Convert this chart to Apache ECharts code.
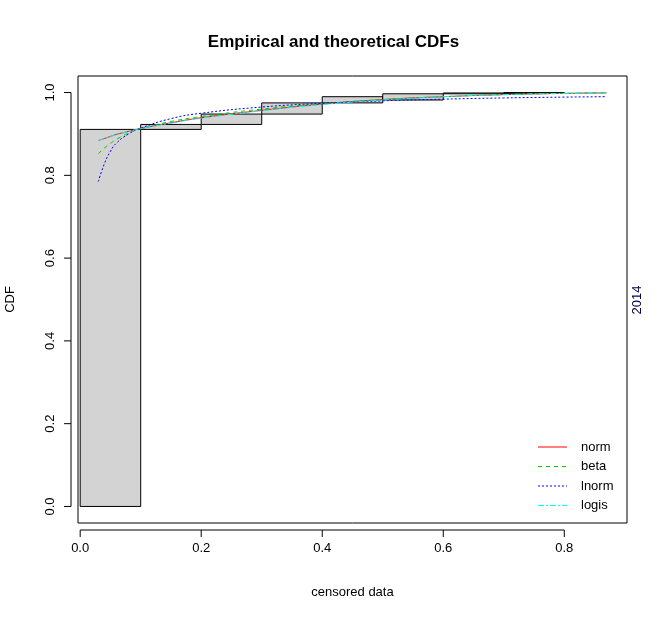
<!DOCTYPE html>
<html>
<head>
<meta charset="utf-8">
<script src="https://cdn.jsdelivr.net/npm/echarts@6/dist/echarts.min.js"></script>
</head>
<body style="margin:0">
<div id="c" style="width:667px;height:621px"></div>
<script>
// Turnbull intervals: [left, right, lowerCDF, upperCDF]
var boxes = [
  [0.0, 0.1, 0.0, 0.911],
  [0.1, 0.2, 0.911, 0.923],
  [0.2, 0.3, 0.923, 0.948],
  [0.3, 0.4, 0.948, 0.975],
  [0.4, 0.5, 0.975, 0.990],
  [0.5, 0.6, 0.982, 0.997],
  [0.6, 0.7, 0.997, 0.999],
  [0.7, 0.8, 0.998, 1.0]
];
var xs = [0.03, 0.04, 0.05, 0.06, 0.08, 0.1, 0.15, 0.2, 0.3, 0.4, 0.5, 0.6, 0.7, 0.8, 0.87];
var normY  = [0.884, 0.889, 0.894, 0.899, 0.906, 0.913, 0.927, 0.939, 0.957, 0.972, 0.983, 0.990, 0.995, 0.998, 0.999];
var betaY  = [0.852, 0.866, 0.877, 0.887, 0.902, 0.913, 0.930, 0.942, 0.960, 0.973, 0.983, 0.990, 0.995, 0.998, 1.0];
var lnormY = [0.785, 0.828, 0.858, 0.878, 0.900, 0.914, 0.937, 0.950, 0.965, 0.974, 0.980, 0.984, 0.987, 0.989, 0.990];
var logisY = [0.884, 0.889, 0.894, 0.899, 0.906, 0.913, 0.926, 0.938, 0.956, 0.971, 0.982, 0.990, 0.995, 0.998, 0.999];
var names = ['norm', 'beta', 'lnorm', 'logis'];
var colors = ['#ff0000', '#00cd00', '#0000ff', '#00ffff'];
var dashes = ['solid', [4, 4], [2, 2], [6, 2, 2, 2]];
var ys = [normY, betaY, lnormY, logisY];

function pairs(a) { return xs.map(function (x, i) { return [x, a[i]]; }); }

var font = 'Arial, "Liberation Sans", sans-serif';
var chart = echarts.init(document.getElementById('c'));
var series = [{
  type: 'custom',
  data: boxes,
  renderItem: function (p, api) {
    var a = api.coord([api.value(0), api.value(3)]);
    var b = api.coord([api.value(1), api.value(2)]);
    return {
      type: 'rect',
      shape: { x: a[0], y: a[1], width: b[0] - a[0], height: b[1] - a[1] },
      style: { fill: '#d3d3d3', stroke: '#000', lineWidth: 1 }
    };
  },
  silent: true
}];
ys.forEach(function (a, i) {
  series.push({
    type: 'line', name: names[i], data: pairs(a), smooth: true, showSymbol: false,
    lineStyle: { color: colors[i], width: 1, type: dashes[i] }, silent: true
  });
});

chart.setOption({
  animation: false,
  title: { text: 'Empirical and theoretical CDFs', left: 'center', top: 29,
    textStyle: { fontFamily: font, fontSize: 17, fontWeight: 'bold', color: '#000' } },
  grid: { left: 78, top: 76, width: 549, height: 447, show: true, borderColor: '#000', borderWidth: 1,
    containLabel: false, outerBoundsMode: 'none' },
  xAxis: {
    type: 'value', min: -0.0036, max: 0.9036, interval: 0.2,
    name: 'censored data', nameLocation: 'middle', nameGap: 63,
    nameTextStyle: { fontFamily: font, fontSize: 13, color: '#000' },
    splitLine: { show: false }, axisLine: { show: false },
    axisTick: { show: false },
    axisLabel: { show: false }
  },
  yAxis: {
    type: 'value', min: -0.04, max: 1.04,
    name: 'CDF', nameLocation: 'middle', nameGap: 61,
    nameTextStyle: { fontFamily: font, fontSize: 13, color: '#000' },
    splitLine: { show: false }, axisLine: { show: false },
    axisTick: { show: false }, axisLabel: { show: false }
  },
  series: series
});

// R-style detached axes
var g = [];
var tx = [0, 0.2, 0.4, 0.6, 0.8], ty = [0, 0.2, 0.4, 0.6, 0.8, 1.0];
var yb = 530, xl = 71;
var p0 = chart.convertToPixel({ gridIndex: 0 }, [0, 0]);
var p1 = chart.convertToPixel({ gridIndex: 0 }, [0.8, 1.0]);
g.push({ type: 'line', shape: { x1: p0[0], y1: yb, x2: p1[0], y2: yb }, style: { stroke: '#000' } });
g.push({ type: 'line', shape: { x1: xl, y1: p0[1], x2: xl, y2: p1[1] }, style: { stroke: '#000' } });
tx.forEach(function (v) {
  var x = chart.convertToPixel({ gridIndex: 0 }, [v, 0])[0];
  g.push({ type: 'line', shape: { x1: x, y1: yb, x2: x, y2: yb + 7 }, style: { stroke: '#000' } });
  g.push({ type: 'text', x: x, y: yb + 12, style: { text: v.toFixed(1), fontFamily: font, fontSize: 13, fill: '#000', align: 'center' } });
});
ty.forEach(function (v) {
  var y = chart.convertToPixel({ gridIndex: 0 }, [0, v])[1];
  g.push({ type: 'line', shape: { x1: xl, y1: y, x2: xl - 7, y2: y }, style: { stroke: '#000' } });
  g.push({ type: 'text', x: 50, y: y, rotation: Math.PI / 2,
    style: { text: v.toFixed(1), fontFamily: font, fontSize: 13, fill: '#000', align: 'center', verticalAlign: 'middle' } });
});
g.push({ type: 'text', x: 637, y: 300, rotation: Math.PI / 2,
  style: { text: '2014', fontFamily: font, fontSize: 13, fill: '#00004d', align: 'center', verticalAlign: 'middle' } });
names.forEach(function (n, i) {
  var y = 447 + i * 19.5;
  var ld = dashes[i] === 'solid' ? null : dashes[i];
  g.push({ type: 'line', shape: { x1: 538, y1: y, x2: 567, y2: y }, style: { stroke: colors[i], lineWidth: 1, lineDash: ld } });
  g.push({ type: 'text', x: 581, y: y, style: { text: n, fontFamily: font, fontSize: 13, fill: '#000', verticalAlign: 'middle' } });
});
chart.setOption({ graphic: g });
</script>
</body>
</html>
